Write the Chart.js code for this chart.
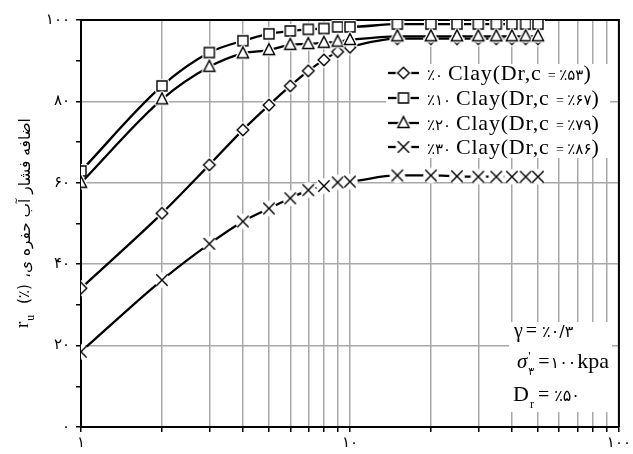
<!DOCTYPE html>
<html><head><meta charset="utf-8">
<script src="https://cdn.jsdelivr.net/npm/chart.js@4"></script>
<style>html,body{margin:0;padding:0;background:#fff}#wrap{width:633px;height:454px}</style>
</head><body><div id="wrap"><canvas id="c" width="633" height="454"></canvas></div>
<script>
// ---- data ----
const xValues = [1,2,3,4,5,6,7,8,9,10,15,20,25,30,35,40,45,50];
const clay0  = [34.1,52.5,64.4,73.0,79.1,83.8,87.5,90.2,92.2,93.3,95.4,95.4,95.4,95.4,95.4,95.4,95.4,95.4];
const clay10 = [62.9,83.8,92.0,94.9,96.6,97.3,97.7,97.9,98.3,98.3,99.0,99.0,99.0,99.0,99.0,99.0,99.0,99.0];
const clay20 = [60.0,80.5,88.5,91.8,92.6,93.9,94.1,94.4,94.7,95.1,96.0,96.0,96.0,96.0,96.0,96.0,96.0,96.0];
const clay30 = [18.5,36.1,45.0,50.5,53.7,56.2,58.2,59.2,60.1,60.3,61.8,61.8,61.6,61.5,61.5,61.5,61.5,61.5];
const seriesLabels = ['٪۰ Clay(Dr,c = ٪۵۳)','٪۱۰ Clay(Dr,c = ٪۶۷)','٪۲۰ Clay(Dr,c = ٪۷۹)','٪۳۰ Clay(Dr,c = ٪۸۶)'];
const seriesMarkers = ['diamond','square','triangle','cross'];
const xTickValues = [1,2,3,4,5,6,7,8,9,10,20,30,40,50,60,70,80,90,100];
const xTickLabels = {1:'۱',10:'۱۰',100:'۱۰۰'};
const yTickLabels = {0:'۰',20:'۲۰',40:'۴۰',60:'۶۰',80:'۸۰',100:'۱۰۰'};
const yTitleSymbol = 'r';
const yTitleSub = 'u';
const yTitleUnit = '(٪)';
const yTitlePersian = 'اضافه فشار آب حفره ی،';

const GRID = '#a8a8a8';
const SERIF = '"Liberation Serif", "Times New Roman", serif';
const FA = '"DejaVu Sans", sans-serif';

function makeMarker(kind){
  const S=22, c=S/2;
  const cv=document.createElement('canvas'); cv.width=S; cv.height=S;
  const g=cv.getContext('2d');
  if(kind==='cross'){
    g.fillStyle='#fff'; g.beginPath(); g.arc(c,c,7.8,0,Math.PI*2); g.fill();
    g.strokeStyle='#000'; g.lineWidth=1.4; const r=5.7;
    g.beginPath(); g.moveTo(c-r,c-r); g.lineTo(c+r,c+r); g.moveTo(c+r,c-r); g.lineTo(c-r,c+r); g.stroke();
    return cv;
  }
  const path=()=>{
    g.beginPath();
    if(kind==='diamond'){ const r=5.8; g.moveTo(c,c-r); g.lineTo(c+r,c); g.lineTo(c,c+r); g.lineTo(c-r,c); g.closePath(); }
    else if(kind==='square'){ const r=5; g.rect(c-r,c-r,2*r,2*r); }
    else { const r=5.6; g.moveTo(c,c-r*1.15); g.lineTo(c+r,c+r*0.8); g.lineTo(c-r,c+r*0.8); g.closePath(); }
  };
  path(); g.strokeStyle='#fff'; g.lineWidth=4; g.lineJoin='round'; g.stroke();
  g.fillStyle='#fff'; g.fill();
  g.strokeStyle='#000'; g.lineWidth=1.4; g.lineJoin='miter'; g.stroke();
  return cv;
}
const markers = seriesMarkers.map(makeMarker);
const seriesData = [clay0, clay10, clay20, clay30];
const orders = [3,2,1,4];

const datasets = seriesData.map((arr,i)=>({
  label: seriesLabels[i],
  data: xValues.map((x,j)=>({x:x, y:arr[j]})),
  borderColor:'#000', borderWidth:2.3, backgroundColor:'#fff',
  pointStyle: markers[i], pointRadius:5, pointHoverRadius:5,
  cubicInterpolationMode:'monotone', fill:false, order: orders[i]
}));

function drawRuns(ctx, x, y, runs){
  for(const r of runs){
    ctx.font = r.font;
    ctx.letterSpacing = r.ls || '0px';
    ctx.fillText(r.t, x, y + (r.dy||0));
    x += ctx.measureText(r.t).width + (r.gap||0);
  }
  ctx.letterSpacing='0px';
  return x;
}
function labelRuns(label){
  const runs=[]; let cur=null;
  for(const ch of label){
    let cls = /[\u0600-\u06FF]/.test(ch) ? 'fa' : (ch==='=' ? 'eq' : (ch===' ' ? 'sp' : 'lat'));
    if(cls==='sp'){ cls = cur ? cur.cls : 'lat'; }
    if(!cur || cur.cls!==cls){ cur={cls, t:''}; runs.push(cur); }
    cur.t += ch;
  }
  return runs.map(r=>{
    if(r.cls==='fa') return {t:r.t, font:'15px '+FA};
    if(r.cls==='eq') return {t:r.t, font:'14px '+SERIF};
    return {t:r.t, font:'22px '+SERIF, ls:'0.8px'};
  });
}

const overlay = {
  id:'overlay',
  beforeDatasetsDraw(chart){
    const {ctx, chartArea:a} = chart;
    ctx.save(); ctx.strokeStyle='#000'; ctx.lineWidth=2;
    ctx.beginPath(); ctx.moveTo(a.left,a.top); ctx.lineTo(a.right,a.top); ctx.lineTo(a.right,a.bottom); ctx.stroke();
    ctx.restore();
  },
  afterDatasetsDraw(chart){
    const {ctx} = chart;
    ctx.save();
    ctx.fillStyle='#000'; ctx.textBaseline='alphabetic'; ctx.textAlign='left';
    // legend
    ctx.fillStyle='#fff'; ctx.fillRect(386,64,224,94);
    const rowsY=[73,98,123,147];
    chart.data.datasets.forEach((ds,i)=>{
      const y=rowsY[i];
      ctx.strokeStyle='#000'; ctx.lineWidth=2.3;
      ctx.beginPath(); ctx.moveTo(388,y); ctx.lineTo(419,y); ctx.stroke();
      const m=ds.pointStyle; ctx.drawImage(m, 403.5-m.width/2, y-m.height/2);
      ctx.fillStyle='#000';
      drawRuns(ctx, 427, y+7, labelRuns(ds.label));
    });
    // note box
    ctx.fillStyle='#fff'; ctx.fillRect(509,322,103,90);
    ctx.fillStyle='#000';
    drawRuns(ctx, 514, 337, [
      {t:'γ', font:'20px '+SERIF, gap:3},
      {t:'=', font:'20px '+SERIF, gap:5},
      {t:'٪۰/۳', font:'16px '+FA}
    ]);
    let x = drawRuns(ctx, 517, 368, [{t:'σ', font:'italic 21px '+SERIF, gap:1}]);
    drawRuns(ctx, x, 360, [{t:"'", font:'13px '+SERIF}]);
    x = drawRuns(ctx, x, 375, [{t:'۳', font:'11px '+FA, gap:3}]);
    drawRuns(ctx, x+1, 368, [
      {t:'=', font:'20px '+SERIF, gap:1},
      {t:'۱۰۰', font:'16px '+FA, gap:1},
      {t:'kpa', font:'22px '+SERIF}
    ]);
    x = drawRuns(ctx, 513, 401, [{t:'D', font:'22px '+SERIF}]);
    x = drawRuns(ctx, x+1, 408, [{t:'r', font:'12px '+SERIF, gap:4}]);
    drawRuns(ctx, x, 401, [
      {t:'=', font:'20px '+SERIF, gap:5},
      {t:'٪۵۰', font:'16px '+FA}
    ]);
    // y title
    ctx.translate(28, 328); ctx.rotate(-Math.PI/2);
    ctx.font='19px '+SERIF; ctx.fillText(yTitleSymbol, 0, 0);
    const rw = ctx.measureText(yTitleSymbol).width;
    ctx.font='12px '+SERIF; ctx.fillText(yTitleSub, rw+1, 6);
    ctx.font='15px '+FA; ctx.fillText(yTitleUnit, 24, 1);
    ctx.font='14px '+FA;
    const w14 = ctx.measureText(yTitlePersian).width;
    const fs = 14*160/w14;
    ctx.font = fs.toFixed(2)+'px '+FA;
    ctx.direction='rtl'; ctx.textAlign='left';
    ctx.fillText(yTitlePersian, 50, 2);
    ctx.restore();
  }
};

new Chart(document.getElementById('c'), {
  type:'line',
  data:{ datasets },
  options:{
    responsive:false, animation:false, devicePixelRatio:1,
    layout:{ padding:{top:20, right:10, left:0, bottom:0} },
    plugins:{ legend:{display:false}, tooltip:{enabled:false} },
    scales:{
      x:{
        type:'logarithmic', min:1, max:100, position:'bottom',
        afterBuildTicks:s=>{ s.ticks = xTickValues.map(v=>({value:v})); },
        afterFit:s=>{ s.height = 27; },
        ticks:{ autoSkip:false, maxRotation:0, padding:2, color:'#000', font:{family:FA, size:15},
          callback:v=> xTickLabels[v] || '' },
        grid:{ color:c=> (c.tick && (c.tick.value===1 || c.tick.value===100)) ? 'rgba(0,0,0,0)' : GRID,
          lineWidth:1.5, tickColor:'#000', tickWidth:1.5, tickLength:5 },
        border:{ color:'#000', width:2 }
      },
      y:{
        type:'linear', min:0, max:100,
        ticks:{ stepSize:10, padding:6, color:'#000', font:{family:FA, size:15},
          callback:v=> yTickLabels[v] || '' },
        afterFit:s=>{ s.width = 81; },
        grid:{ color:c=> (c.tick && c.tick.value%20===0 && c.tick.value!==0 && c.tick.value!==100) ? GRID : 'rgba(0,0,0,0)',
          lineWidth:1.5, tickColor:'#000', tickWidth:1.5, tickLength:5 },
        border:{ color:'#000', width:2 }
      }
    }
  },
  plugins:[overlay]
});
</script></body></html>
